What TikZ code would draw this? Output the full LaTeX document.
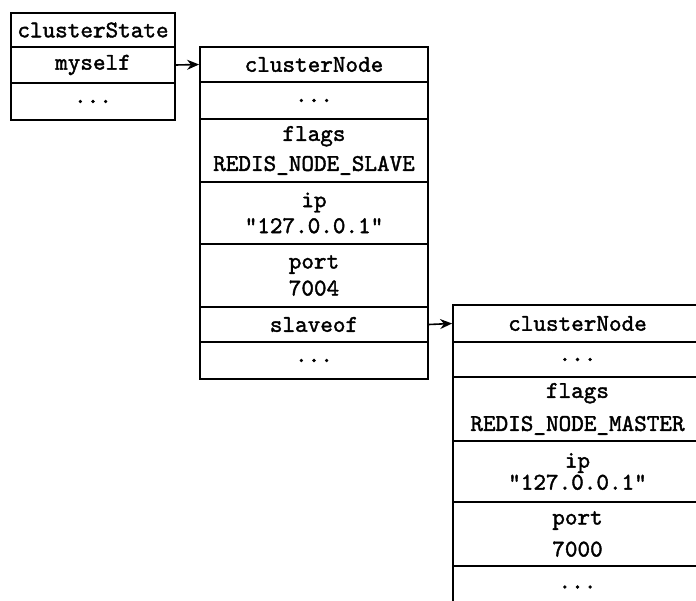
\documentclass[tikz,border=0pt]{standalone}
\usepackage{fontspec}
\newfontfamily\codefont{lmmono10-regular.otf}[FakeBold=1.6]
\usetikzlibrary{arrows.meta}
\begin{document}
\begin{tikzpicture}[x=1pt,y=-1pt,
 cell/.style={draw, line width=1.8pt, inner sep=0pt, align=center,
   font=\codefont\fontsize{24}{24}\selectfont},
 ptr/.style={line width=1.6pt, -{Stealth[length=12pt,width=10pt]}}]
\clip (0,0) rectangle (696,601);
% table 1
\begin{scope}[every node/.append style={cell, minimum width=164pt}]
\node[minimum height=34pt] (s1) at (93,30) {clusterState};
\node[minimum height=36pt] (s2) at (93,65) {myself};
\node[minimum height=37pt] (s3) at (93,101.5) {...};
\end{scope}
% table 2
\begin{scope}[every node/.append style={cell, minimum width=228pt}]
\node[minimum height=35pt] (a1) at (314,64.5) {clusterNode};
\node[minimum height=37pt] (a2) at (314,100.5) {...};
\node[minimum height=63pt] (a3) at (314,150.5) {flags\\[6pt]REDIS\_NODE\_SLAVE};
\node[minimum height=62pt] (a4) at (314,213) {ip\\[2pt]"127.0.0.1"};
\node[minimum height=63pt] (a5) at (314,275.5) {port\\[3pt]7004};
\node[minimum height=35pt] (a6) at (314,324.5) {slaveof};
\node[minimum height=37pt] (a7) at (314,360.5) {...};
\end{scope}
% table 3
\begin{scope}[every node/.append style={cell, minimum width=249pt}]
\node[minimum height=37pt] (b1) at (577.5,323.5) {clusterNode};
\node[minimum height=35pt] (b2) at (577.5,359.5) {...};
\node[minimum height=64pt] (b3) at (577.5,409) {flags\\[9pt]REDIS\_NODE\_MASTER};
\node[minimum height=61pt] (b4) at (577.5,471.5) {ip\\[-2pt]"127.0.0.1"};
\node[minimum height=64pt] (b5) at (577.5,534) {port\\[8pt]7000};
\node[minimum height=42pt] (b6) at (577.5,587) {...};
\end{scope}
\draw[ptr] (s2.east) -- (a1.west);
\draw[ptr] (a6.east) -- (b1.west);
\end{tikzpicture}
\end{document}
